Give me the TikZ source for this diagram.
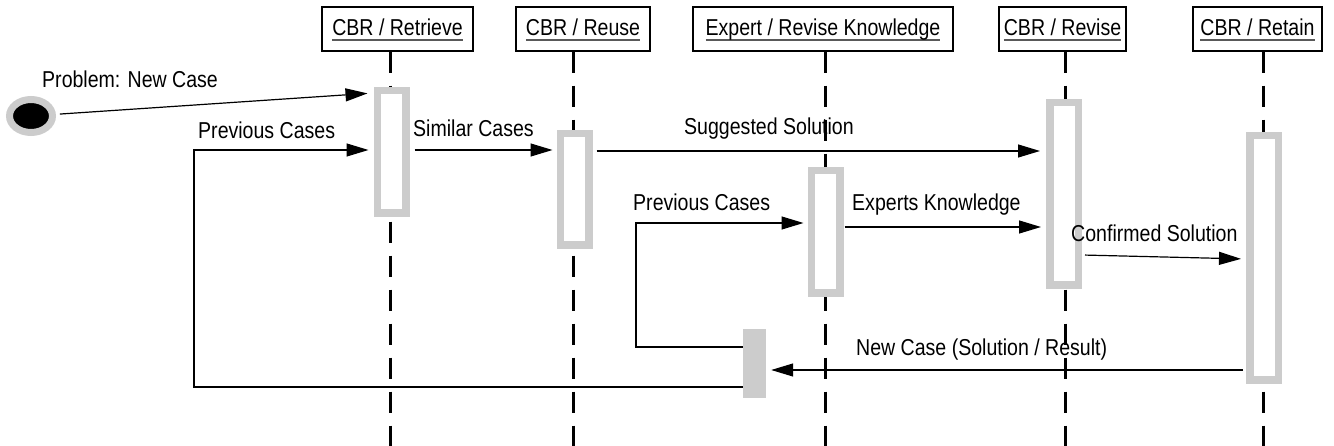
\documentclass[tikz,border=0pt]{standalone}
\usepackage{fontspec}
\setmainfont{Liberation Sans}[FakeStretch=0.85]
\usetikzlibrary{arrows.meta,shapes.geometric}
\newcommand{\hdrtext}[1]{\setbox0\hbox{#1}\rlap{\color{black!65}\rule[-4.75pt]{\wd0}{1.5pt}}\box0}

\begin{document}
\begin{tikzpicture}[x=1pt,y=-1pt,
    font=\fontsize{23}{26}\selectfont,
    hdr/.style={draw, line width=1.3pt, minimum height=44pt, inner sep=0pt, text height=18pt, text depth=4pt},
    act/.style={draw=black!20, fill=white, line width=7.5pt, inner sep=0pt, minimum width=28.5pt},
    startnode/.style={ellipse, draw=black!20, fill=black, line width=7pt, minimum width=43pt, minimum height=33pt, inner sep=0pt},
    life/.style={line width=3pt, dash pattern=on 21pt off 13pt},
    msg/.style={-{Triangle[length=22pt,width=13pt]}, line width=1.2pt},
    lbl/.style={anchor=base west, inner sep=0pt}]
  \useasboundingbox (0,0) rectangle (1334,446);

  \node[hdr, minimum width=151pt] (retrieve) at (397.5,29) {\hdrtext{CBR / Retrieve}};
  \node[hdr, minimum width=134pt] (reuse) at (583,29) {\hdrtext{CBR / Reuse}};
  \node[hdr, minimum width=260pt] (expert) at (823,29) {\hdrtext{Expert / Revise Knowledge}};
  \node[hdr, minimum width=127pt] (revise) at (1062.5,29) {\hdrtext{CBR / Revise}};
  \node[hdr, minimum width=129pt] (retain) at (1257.5,29) {\hdrtext{CBR / Retain}};

  \foreach \h/\x in {retrieve/390, reuse/573, expert/825, revise/1065, retain/1263}
    \draw[life] (\x,0 |- \h.south) -- (\x,446);

  \node[act, minimum height=122.5pt] (a1) at (391.5,152) {};
  \node[act, minimum height=111.5pt] (a2) at (574.5,189.5) {};
  \node[act, minimum height=122.5pt] (a3) at (825.5,232) {};
  \node[act, minimum height=182.5pt] (a4) at (1064,194) {};
  \node[act, minimum height=244.5pt] (a5) at (1264,258) {};
  \node[fill=black!20, minimum width=23pt, minimum height=69pt, inner sep=0pt] (blk) at (754.5,363.5) {};
  \node[startnode] (start) at (31,116) {};

  \node[lbl] (lprob) at (42,88) {Problem: New Case};
  \node[lbl] (lprev1) at (198,139) {Previous Cases};
  \node[lbl] (lsim) at (413,137) {Similar Cases};
  \node[lbl] (lsugg) at (684,135) {Suggested Solution};
  \node[lbl] (lprev2) at (633,211) {Previous Cases};
  \node[lbl] (lexp) at (852,211) {Experts Knowledge};
  \node[lbl] (lconf) at (1071,242) {Confirmed Solution};
  \node[lbl] (lnew) at (856,356) {New Case (Solution / Result)};

  \coordinate (loopA) at (194,150);
  \coordinate (loopB) at (636,223);

  \draw[msg, shorten <=4pt, shorten >=6pt] (start) -- (a1.west |- 0,93);
  \draw[msg, shorten >=5pt] (blk.west |- 0,387) -| (loopA) -- (a1.west |- loopA);
  \draw[msg, shorten <=5pt, shorten >=4pt] (a1.east |- 0,150) -- (a2.west |- 0,150);
  \draw[msg, shorten <=4pt, shorten >=6pt] (a2.east |- 0,151) -- (a4.west |- 0,151);
  \draw[msg, shorten >=4pt] (blk.west |- 0,347) -| (loopB) -- (a3.west |- loopB);
  \draw[msg, shorten <=1pt, shorten >=5pt] (a3.east |- 0,227) -- (a4.west |- 0,227);
  \draw[msg, shorten <=3pt, shorten >=5pt] (a4.east |- 0,255) -- (a5.west |- 0,259);
  \draw[msg, shorten <=3pt, shorten >=5pt] (a5.west |- 0,370) -- (blk.east |- 0,370);
\end{tikzpicture}
\end{document}
